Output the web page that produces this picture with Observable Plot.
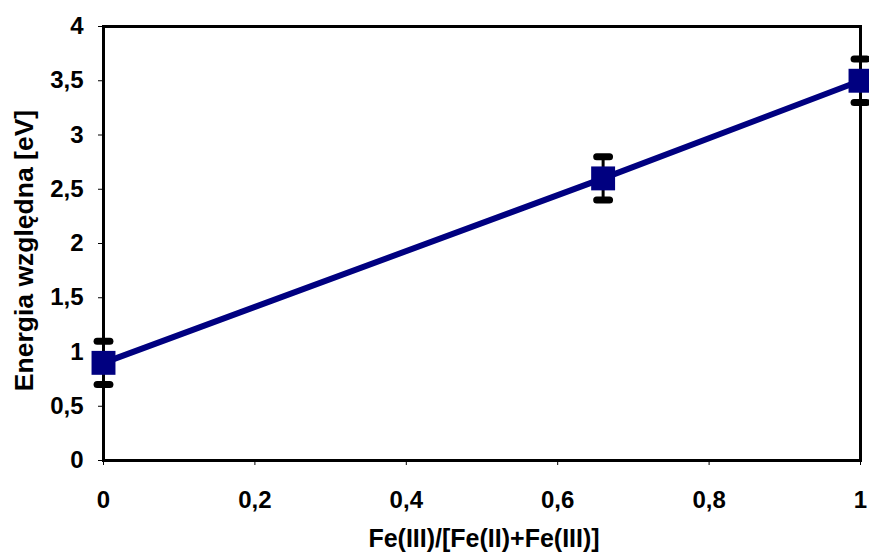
<!DOCTYPE html>
<html><head><meta charset="utf-8">
<script src="https://cdn.jsdelivr.net/npm/d3@7"></script>
<script src="https://cdn.jsdelivr.net/npm/@observablehq/plot@0.6"></script>
<style>body{margin:0;background:#fff}</style>
</head><body><div id="chart"></div>
<script>
const xValues = [0, 0.66, 1];
const yValues = [0.9, 2.6, 3.5];
const yErrors = [0.2, 0.2, 0.2];
const xTicks = [0, 0.2, 0.4, 0.6, 0.8, 1];
const yTicks = [0, 0.5, 1, 1.5, 2, 2.5, 3, 3.5, 4];
const xLabel = "Fe(III)/[Fe(II)+Fe(III)]";
const yLabel = "Energia względna [eV]";

const data = xValues.map((x, i) => ({x, y: yValues[i], e: yErrors[i]}));
const fmt = d => String(d).replace(".", ",");
const capHalf = 0.0085;
const font = {fontSize: 24, fontWeight: "bold", fill: "#000"};

const chart = Plot.plot({
  width: 869, height: 553,
  marginLeft: 103, marginRight: 9, marginTop: 26, marginBottom: 93,
  style: {background: "#fff", color: "#000", fontFamily: "'Liberation Sans', Arial, sans-serif"},
  x: {domain: [0, 1]},
  y: {domain: [0, 4]},
  marks: [
    Plot.axisX(xTicks, {tickFormat: fmt, tickSize: 5, tickPadding: 25, ...font,
      label: null}),
    Plot.text([xLabel], {text: d => d, frameAnchor: "bottom", dy: 78, dx: 2,
      lineAnchor: "middle", textAnchor: "middle", ...font, fontSize: 25}),
    Plot.axisY(yTicks, {tickFormat: fmt, tickSize: 5, tickPadding: 15, ...font, label: null}),
    Plot.text([yLabel], {text: d => d, frameAnchor: "left", rotate: -90, dx: -79, dy: 7,
      lineAnchor: "middle", textAnchor: "middle", ...font, fontSize: 26.5}),
    Plot.line(data, {x: "x", y: "y", stroke: "#000080", strokeWidth: 6}),
    Plot.ruleX(data, {x: "x", y1: d => d.y - d.e, y2: d => d.y + d.e, stroke: "#000", strokeWidth: 3}),
    Plot.link(data, {x1: d => d.x - capHalf, x2: d => d.x + capHalf, y1: d => d.y + d.e, y2: d => d.y + d.e, stroke: "#000", strokeWidth: 7, strokeLinecap: "round"}),
    Plot.link(data, {x1: d => d.x - capHalf, x2: d => d.x + capHalf, y1: d => d.y - d.e, y2: d => d.y - d.e, stroke: "#000", strokeWidth: 7, strokeLinecap: "round"}),
    Plot.frame({stroke: "#000", strokeWidth: 3}),
    Plot.dot(data, {x: "x", y: "y", symbol: "square", r: 13.5, fill: "#000080", stroke: "none"})
  ]
});
document.getElementById("chart").appendChild(chart);
</script>
</body></html>
